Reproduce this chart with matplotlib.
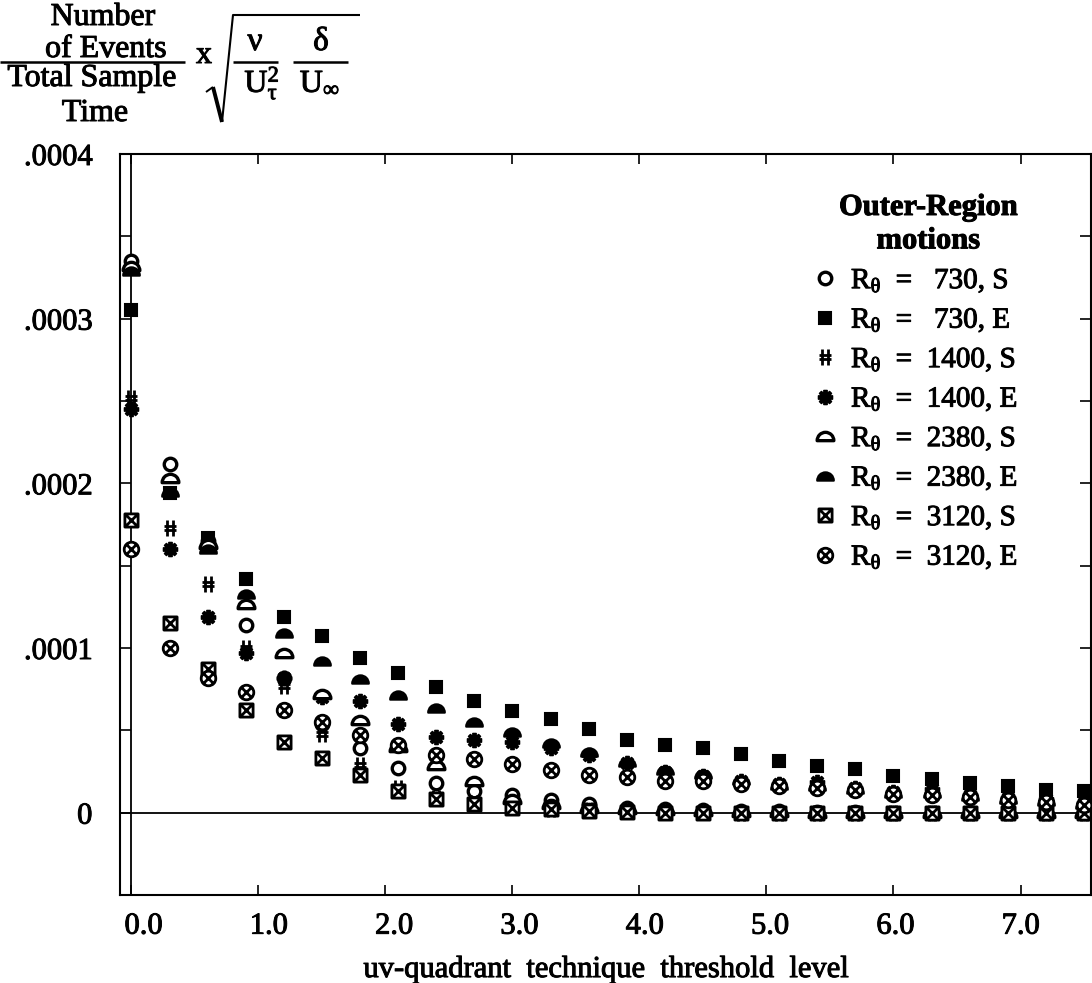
import numpy as np
import matplotlib
matplotlib.use('Agg')
import matplotlib.pyplot as plt
import matplotlib.patheffects as pe
from matplotlib.path import Path
from matplotlib.lines import Line2D
from matplotlib.text import Text
from matplotlib.transforms import ScaledTranslation

plt.rcParams['font.family'] = ['Liberation Serif', 'DejaVu Serif']
plt.rcParams['mathtext.fontset'] = 'custom'
plt.rcParams['mathtext.rm'] = 'Liberation Serif'
plt.rcParams['mathtext.it'] = 'Liberation Serif:italic'
plt.rcParams['mathtext.bf'] = 'Liberation Serif:bold'

# threshold levels (x axis)
thresholds = [0.0, 0.3, 0.6, 0.9, 1.2, 1.5, 1.8, 2.1, 2.4, 2.7, 3.0, 3.3, 3.6,
              3.9, 4.2, 4.5, 4.8, 5.1, 5.4, 5.7, 6.0, 6.3, 6.6, 6.9, 7.2, 7.5]

# events per sample time (normalised)
r730_s = [3.35e-4, 2.12e-4, 1.65e-4, 1.14e-4, 8.2e-5, 5.4e-5, 3.9e-5, 2.7e-5, 1.8e-5,
          1.3e-5, 1.05e-5, 7.5e-6, 5e-6, 3e-6, 2e-6, 1.5e-6, 1e-6, 1e-6, 5e-7, 5e-7,
          0, 0, 0, 0, 0, 0]
r730_e = [3.05e-4, 1.94e-4, 1.67e-4, 1.42e-4, 1.19e-4, 1.07e-4, 9.4e-5, 8.5e-5, 7.65e-5,
          6.8e-5, 6.15e-5, 5.7e-5, 5.1e-5, 4.4e-5, 4.1e-5, 3.95e-5, 3.55e-5, 3.15e-5,
          2.85e-5, 2.65e-5, 2.25e-5, 2.05e-5, 1.8e-5, 1.6e-5, 1.4e-5, 1.3e-5]
r1400_s = [2.52e-4, 1.73e-4, 1.39e-4, 1.0e-4, 7.7e-5, 4.8e-5, 2.9e-5, 1.5e-5, 9e-6,
           6e-6, 4e-6, 2.5e-6, 1.5e-6, 1e-6, 5e-7, 5e-7, 0, 0, 0, 0, 0, 0, 0, 0, 0, 0]
r1400_e = [2.45e-4, 1.6e-4, 1.19e-4, 9.7e-5, 8.2e-5, 7.0e-5, 6.8e-5, 5.4e-5, 4.6e-5,
           4.4e-5, 4.3e-5, 3.95e-5, 3.5e-5, 3.0e-5, 2.5e-5, 2.2e-5, 1.9e-5, 1.75e-5,
           1.85e-5, 1.5e-5, 1.25e-5, 1.45e-5, 1.1e-5, 9e-6, 8e-6, 6e-6]
r2380_s = [3.32e-4, 2.03e-4, 1.63e-4, 1.27e-4, 9.7e-5, 7.2e-5, 5.6e-5, 4.0e-5, 2.9e-5,
           1.9e-5, 8e-6, 5e-6, 3e-6, 2e-6, 1.5e-6, 1e-6, 5e-7, 5e-7, 0, 0, 0, 0, 0, 0, 0, 0]
r2380_e = [3.29e-4, 1.95e-4, 1.6e-4, 1.33e-4, 1.09e-4, 9.2e-5, 8.1e-5, 7.15e-5, 6.35e-5,
           5.5e-5, 4.9e-5, 4.25e-5, 3.7e-5, 3.1e-5, 2.6e-5, 2.35e-5, 2.0e-5, 1.65e-5,
           1.6e-5, 1.45e-5, 1.2e-5, 1.2e-5, 1.0e-5, 8e-6, 7e-6, 5e-6]
r3120_s = [1.78e-4, 1.15e-4, 8.7e-5, 6.25e-5, 4.3e-5, 3.3e-5, 2.3e-5, 1.3e-5, 8e-6,
           5e-6, 3e-6, 2e-6, 1e-6, 5e-7, 0, 0, 0, 0, 0, 0, 0, 0, 0, 0, 0, 0]
r3120_e = [1.6e-4, 1.0e-4, 8.2e-5, 7.35e-5, 6.25e-5, 5.5e-5, 4.7e-5, 4.1e-5, 3.5e-5,
           3.25e-5, 2.95e-5, 2.6e-5, 2.3e-5, 2.15e-5, 1.9e-5, 1.9e-5, 1.75e-5, 1.6e-5,
           1.5e-5, 1.35e-5, 1.15e-5, 1.1e-5, 9.5e-6, 7.5e-6, 6.5e-6, 4.5e-6]

series_labels = [r'R$_\mathrm{θ}$  =   730, S', r'R$_\mathrm{θ}$  =   730, E',
                 r'R$_\mathrm{θ}$  =  1400, S', r'R$_\mathrm{θ}$  =  1400, E',
                 r'R$_\mathrm{θ}$  =  2380, S', r'R$_\mathrm{θ}$  =  2380, E',
                 r'R$_\mathrm{θ}$  =  3120, S', r'R$_\mathrm{θ}$  =  3120, E']

xtick_labels = ['0.0', '1.0', '2.0', '3.0', '4.0', '5.0', '6.0', '7.0']
ytick_labels = ['0', '.0001', '.0002', '.0003', '.0004']

# --- custom marker shapes ---
M, L, C = Path.MOVETO, Path.LINETO, Path.CLOSEPOLY

box_x = Path([(-1, -1), (1, -1), (1, 1), (-1, 1), (-1, -1),
              (-1, -1), (1, 1), (-1, 1), (1, -1)],
             [M, L, L, L, C, M, L, M, L])

circ = Path.unit_circle()
d = 0.707
circ_x = Path(np.vstack([circ.vertices, [(-d, -d), (d, d), (-d, d), (d, -d)]]),
              np.concatenate([circ.codes, [M, L, M, L]]))

arc = Path.arc(0, 180)
dome_v = np.vstack([arc.vertices, [(1, 0)]]) - [0, 0.5]
dome = Path(dome_v, np.concatenate([arc.codes, [C]]))

hash2 = Path([(-0.35, -1), (-0.35, 1), (0.35, -1), (0.35, 1),
              (-0.8, 0.25), (0.8, 0.25), (-0.8, -0.25), (0.8, -0.25)],
             [M, L, M, L, M, L, M, L])

styles = [
    dict(marker='o', ms=9, mfc='white', mew=2.4),
    dict(marker='s', ms=9, mfc='black', mew=1.5),
    dict(marker=hash2, ms=11, mfc='none', mew=2.0),
    dict(marker=(8, 2, 0), ms=11, mfc='black', mew=2.8),
    dict(marker=dome, ms=12, mfc='white', mew=2.4),
    dict(marker=dome, ms=12, mfc='black', mew=1.5),
    dict(marker=box_x, ms=9.5, mfc='white', mew=2.0),
    dict(marker=circ_x, ms=10.5, mfc='white', mew=2.0),
]
all_series = [r730_s, r730_e, r1400_s, r1400_e, r2380_s, r2380_e, r3120_s, r3120_e]

W, H = 1092, 983
fig = plt.figure(figsize=(W / 100, H / 100), dpi=100)
ax = fig.add_axes([120 / W, (H - 895) / H, (1091 - 120) / W, (895 - 154) / H])

handles = []
for vals, lab, st in zip(all_series, series_labels, styles):
    h, = ax.plot(thresholds, vals, linestyle='none', color='black', mec='black',
                 label=lab, zorder=3, clip_on=False, **st)
    handles.append(h)

ax.axhline(0, color='black', lw=1.3, zorder=1)
ax.axvline(0, color='black', lw=1.3, zorder=1)

ax.set_xlim(-0.09, 7.555)
ax.set_ylim(-0.00005, 0.0004)
ax.set_xticks(range(8))
ax.set_xticklabels(xtick_labels)
ax.set_yticks([0, 0.0001, 0.0002, 0.0003, 0.0004])
ax.set_yticklabels(ytick_labels)
ax.set_yticks([0.00005, 0.00015, 0.00025, 0.00035], minor=True)

for s in ax.spines.values():
    s.set_linewidth(1.5)

ax.tick_params(axis='x', which='major', direction='in', length=7, width=1.2,
               top=True, bottom=True, labelsize=22, pad=12)
ax.tick_params(axis='y', which='both', direction='in', length=8, width=1.2,
               left=True, right=True, labelsize=22, pad=20)
ax.set_xlabel('uv-quadrant  technique  threshold  level', fontsize=22, labelpad=10)

# in the original the x tick labels sit a little to the right of their ticks
for i, lbl in enumerate(ax.get_xticklabels()):
    dx = (12 - 1.7 * i) / 100
    lbl.set_transform(lbl.get_transform() + ScaledTranslation(dx, 0, fig.dpi_scale_trans))

leg = ax.legend(handles=handles, title='Outer-Region\nmotions', loc='upper left',
                bbox_to_anchor=(813 / W, 1 - 193 / H), bbox_transform=fig.transFigure,
                frameon=False, fontsize=21, handlelength=0.8, handletextpad=0.5,
                labelspacing=0.42, borderpad=0, borderaxespad=0, alignment='right',
                title_fontproperties={'weight': 'bold', 'size': 22})
leg.get_title().set_multialignment('center')

# --- y label block (fraction x sqrt) in the top-left corner ---
def fpos(x, y):
    return x / W, 1 - y / H

fs = 23
fig.text(*fpos(103, 25), 'Number', ha='center', va='baseline', fontsize=fs)
fig.text(*fpos(106, 57), 'of Events', ha='center', va='baseline', fontsize=fs)
fig.text(*fpos(92, 86), 'Total Sample', ha='center', va='baseline', fontsize=fs)
fig.text(*fpos(95, 121), 'Time', ha='center', va='baseline', fontsize=fs)
fig.text(*fpos(204, 63), 'x', ha='center', va='baseline', fontsize=fs)
fig.text(*fpos(255, 50), 'ν', ha='center', va='baseline', fontsize=fs + 1)
fig.text(*fpos(321, 50), 'δ', ha='center', va='baseline', fontsize=fs + 1)
fig.text(*fpos(262, 92), r'U$_\mathrm{τ}^\mathrm{2}$', ha='center', va='baseline', fontsize=fs)
fig.text(*fpos(320, 92), r'U$_\mathrm{∞}$', ha='center', va='baseline', fontsize=fs)

def fig_line(xs, ys, lw=1.5):
    fig.add_artist(Line2D([x / W for x in xs], [1 - y / H for y in ys],
                          color='black', lw=lw, solid_capstyle='butt'))

fig_line([0, 185], [62, 62], lw=1.8)
fig_line([233, 278], [62, 62], lw=1.8)
fig_line([293, 348], [62, 62], lw=1.8)
fig_line([206, 213], [92, 87], lw=1.4)
fig_line([213, 222], [87, 122], lw=2.8)
fig_line([222, 233, 360], [122, 15, 15], lw=1.5)

# the scanned original has heavy ink: thicken every text a little
for t in fig.findobj(Text):
    t.set_path_effects([pe.withStroke(linewidth=0.7, foreground='black')])

fig.savefig('out.png', dpi=100)
